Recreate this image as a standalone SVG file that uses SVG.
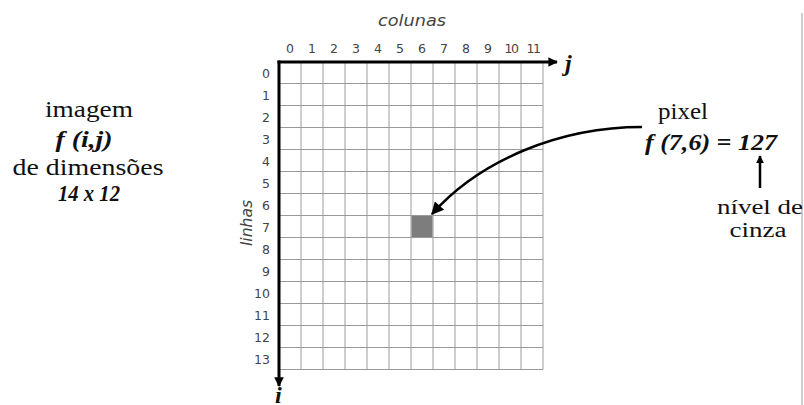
<svg xmlns="http://www.w3.org/2000/svg" width="804" height="405" viewBox="0 0 804 405">
  <style>
    .grid line { stroke: #9a9a9a; stroke-width: 1; }
    .axis { stroke: #000; stroke-width: 3; fill: none; }
    .num { font-family: "DejaVu Sans", Verdana, sans-serif; font-size: 12.5px; fill: #444; }
    .lbl { font-family: "DejaVu Sans", Verdana, sans-serif; font-size: 15px; font-style: italic; fill: #444; }
    .serif { font-family: "Liberation Serif", "Times New Roman", serif; font-size: 23px; fill: #111; text-anchor: middle; }
    .small { font-size: 20px; }
    .bi { font-weight: bold; font-style: italic; }
    .axname { font-family: "Liberation Serif", "Times New Roman", serif; font-size: 24px; font-weight: bold; font-style: italic; fill: #111; }
  </style>
  <defs>
    <marker id="ah" viewBox="0 0 10 10" refX="9" refY="5" markerWidth="3.2" markerHeight="3.2" orient="auto" markerUnits="strokeWidth">
      <path d="M0,0 L10,5 L0,10 z" fill="#000"/>
    </marker>
    <marker id="ahBig" viewBox="0 0 10 10" refX="9" refY="5" markerWidth="6" markerHeight="5" orient="auto" markerUnits="strokeWidth">
      <path d="M0,0 L10,5 L0,10 z" fill="#000"/>
    </marker>
  </defs>

  <rect width="804" height="405" fill="#fff"/>
  <line x1="802" y1="13" x2="802" y2="405" stroke="#bdbdbd" stroke-width="1.5"/>

  <g id="grid" class="grid">
    <line x1="301" y1="62" x2="301" y2="369.5"/>
    <line x1="323" y1="62" x2="323" y2="369.5"/>
    <line x1="345" y1="62" x2="345" y2="369.5"/>
    <line x1="367" y1="62" x2="367" y2="369.5"/>
    <line x1="389" y1="62" x2="389" y2="369.5"/>
    <line x1="411" y1="62" x2="411" y2="369.5"/>
    <line x1="433" y1="62" x2="433" y2="369.5"/>
    <line x1="455" y1="62" x2="455" y2="369.5"/>
    <line x1="477" y1="62" x2="477" y2="369.5"/>
    <line x1="499" y1="62" x2="499" y2="369.5"/>
    <line x1="521" y1="62" x2="521" y2="369.5"/>
    <line x1="543" y1="62" x2="543" y2="369.5"/>
    <line x1="279" y1="83.5" x2="543" y2="83.5"/>
    <line x1="279" y1="105.5" x2="543" y2="105.5"/>
    <line x1="279" y1="127.5" x2="543" y2="127.5"/>
    <line x1="279" y1="149.5" x2="543" y2="149.5"/>
    <line x1="279" y1="171.5" x2="543" y2="171.5"/>
    <line x1="279" y1="193.5" x2="543" y2="193.5"/>
    <line x1="279" y1="215.5" x2="543" y2="215.5"/>
    <line x1="279" y1="237.5" x2="543" y2="237.5"/>
    <line x1="279" y1="259.5" x2="543" y2="259.5"/>
    <line x1="279" y1="281.5" x2="543" y2="281.5"/>
    <line x1="279" y1="303.5" x2="543" y2="303.5"/>
    <line x1="279" y1="325.5" x2="543" y2="325.5"/>
    <line x1="279" y1="347.5" x2="543" y2="347.5"/>
    <line x1="279" y1="369.5" x2="543" y2="369.5"/>
  </g>

  <g id="pixel">
    <rect x="411.5" y="216" width="21" height="21" fill="#7d7d7d"/>
  </g>

  <g id="axes">
    <line class="axis" x1="277.5" y1="62" x2="557" y2="62" marker-end="url(#ah)"/>
    <line class="axis" x1="279" y1="60.5" x2="279" y2="386" marker-end="url(#ah)"/>
    <text class="axname" x="565" y="71">j</text>
    <text class="axname" x="275" y="403" font-size="19">i</text>
  </g>

  <g id="col-labels" class="num" text-anchor="middle">
    <text class="lbl" x="412" y="26" text-anchor="middle" textLength="68" lengthAdjust="spacingAndGlyphs">colunas</text>
    <text x="290" y="53">0</text>
    <text x="312" y="53">1</text>
    <text x="334" y="53">2</text>
    <text x="356" y="53">3</text>
    <text x="378" y="53">4</text>
    <text x="400" y="53">5</text>
    <text x="422" y="53">6</text>
    <text x="444" y="53">7</text>
    <text x="466" y="53">8</text>
    <text x="488" y="53">9</text>
    <text x="511" y="53" letter-spacing="-1.5">10</text>
    <text x="533" y="53" letter-spacing="-1.5">11</text>
  </g>

  <g id="row-labels" class="num" text-anchor="end">
    <text x="270" y="78">0</text>
    <text x="270" y="100">1</text>
    <text x="270" y="122">2</text>
    <text x="270" y="144">3</text>
    <text x="270" y="166">4</text>
    <text x="270" y="188">5</text>
    <text x="270" y="210">6</text>
    <text x="270" y="232">7</text>
    <text x="270" y="254">8</text>
    <text x="270" y="276">9</text>
    <text x="270" y="298">10</text>
    <text x="270" y="320">11</text>
    <text x="270" y="342">12</text>
    <text x="270" y="364">13</text>
    <text class="lbl" transform="translate(252,223) rotate(-90)" text-anchor="middle" textLength="46" lengthAdjust="spacingAndGlyphs">linhas</text>
  </g>

  <g id="image-label">
    <text class="serif" x="89" y="117" textLength="88" lengthAdjust="spacingAndGlyphs">imagem</text>
    <text class="serif bi" x="84" y="147" textLength="57" lengthAdjust="spacingAndGlyphs">f (i,j)</text>
    <text class="serif" x="88" y="175" textLength="151" lengthAdjust="spacingAndGlyphs">de dimensões</text>
    <text class="serif bi" x="89" y="201" textLength="62" lengthAdjust="spacingAndGlyphs">14 x 12</text>
  </g>

  <g id="pixel-label">
    <text class="serif" x="683" y="119" textLength="50" lengthAdjust="spacingAndGlyphs">pixel</text>
    <text class="serif bi" x="711" y="150" textLength="132" lengthAdjust="spacingAndGlyphs">f (7,6) = 127</text>
  </g>

  <g id="gray-label">
    <text class="serif small" x="760" y="214" textLength="86" lengthAdjust="spacingAndGlyphs">nível de</text>
    <text class="serif small" x="758" y="237" textLength="57" lengthAdjust="spacingAndGlyphs">cinza</text>
  </g>

  <g id="connectors">
    <path d="M642,127 C560,127 480,160 432,214" fill="none" stroke="#000" stroke-width="2.5" marker-end="url(#ahBig)"/>
    <line x1="760" y1="188" x2="760" y2="156" stroke="#000" stroke-width="2.5" marker-end="url(#ah)"/>
  </g>
</svg>
